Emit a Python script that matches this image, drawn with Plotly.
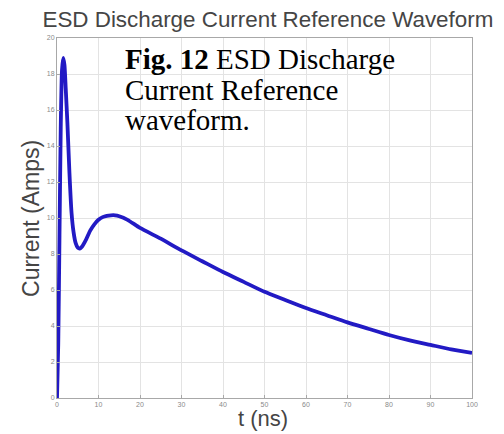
import plotly.graph_objects as go

t_ns = [0, 0.3, 0.6, 0.9, 1.2, 1.5, 1.8, 2.1, 2.5, 3, 3.5, 4, 4.5, 5, 5.5, 6, 7, 8, 9, 10,
        11, 12, 13, 14, 15, 17, 20, 25, 30, 35, 40, 45, 50, 55, 60, 65, 70, 75, 80, 85,
        90, 95, 100]
current_a = [0, 3.0, 9.0, 15.0, 18.2, 18.9, 18.5, 17.2, 15.3, 12.5, 10.3, 9.2, 8.6, 8.35, 8.3,
             8.4, 8.8, 9.3, 9.65, 9.9, 10.05, 10.12, 10.15, 10.15, 10.1, 9.9, 9.45, 8.85,
             8.2, 7.6, 7.0, 6.45, 5.9, 5.45, 5.0, 4.6, 4.2, 3.85, 3.5, 3.2, 2.95, 2.7, 2.5]

x_ticks = [0, 10, 20, 30, 40, 50, 60, 70, 80, 90, 100]
y_ticks = [0, 2, 4, 6, 8, 10, 12, 14, 16, 18, 20]

title_text = "ESD Discharge Current Reference Waveform"
caption_lines = ["<b>Fig. 12</b> ESD Discharge", "Current Reference", "waveform."]

fig = go.Figure()
fig.add_trace(go.Scatter(x=t_ns, y=current_a, mode="lines",
                         line=dict(color="rgb(34,26,196)", width=3.8, shape="spline", smoothing=0.6),
                         showlegend=False))

axis_common = dict(showgrid=True, gridcolor="#e3e3e3", gridwidth=1,
                   showline=True, linecolor="#a8a8a8", linewidth=1, mirror=True,
                   ticks="inside", ticklen=3, tickcolor="#a8a8a8",
                   tickfont=dict(size=7, color="#8a8a8a", family="Liberation Sans"),
                   zeroline=False)

fig.update_layout(
    width=496, height=426,
    margin=dict(l=49, r=32, t=30, b=36),
    paper_bgcolor="white", plot_bgcolor="white",
    title=dict(text=title_text, x=0.524, xanchor="center", xref="container",
               y=0.973, yanchor="middle", yref="container",
               font=dict(size=22.4, color="#454545", family="Liberation Sans")),
    xaxis=dict(range=[0, 100], tickvals=x_ticks, **axis_common),
    yaxis=dict(range=[0, 20], tickvals=y_ticks, **axis_common),
    font=dict(family="Liberation Sans"),
)

fig.add_annotation(xref="paper", yref="paper", x=-0.0627, y=0.5, text="Current (Amps)",
                   textangle=-90, showarrow=False, xanchor="center", yanchor="middle",
                   font=dict(size=23, color="#454545", family="Liberation Sans"))
fig.add_annotation(xref="paper", yref="paper", x=0.496, y=-0.058, text="t (ns)",
                   showarrow=False, xanchor="center", yanchor="middle",
                   font=dict(size=22, color="#454545", family="Liberation Sans"))
for line_text, ypos in zip(caption_lines, [0.942, 0.856, 0.772]):
    fig.add_annotation(xref="paper", yref="paper", x=0.159, y=ypos, text=line_text,
                       showarrow=False, xanchor="left", yanchor="middle", align="left",
                       font=dict(size=29, color="black", family="Liberation Serif"))

fig.write_html("out.html")
